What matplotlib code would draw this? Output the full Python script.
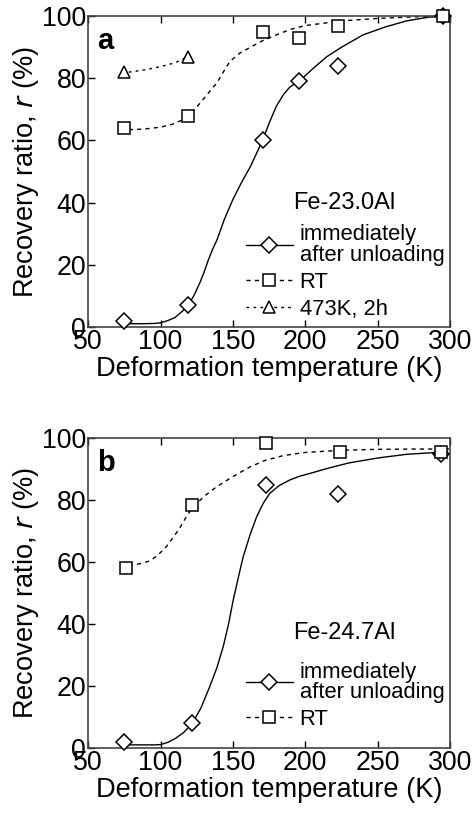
import matplotlib
matplotlib.use("Agg")
import matplotlib.pyplot as plt
from matplotlib.lines import Line2D

plt.rcParams['font.family'] = ['Liberation Sans', 'DejaVu Sans']

# ---------------- Panel a (Fe-23.0Al) ----------------
a_T_imm = [75, 119, 171, 196, 223, 295]
a_r_imm = [2, 7, 60, 79, 84, 100]
a_T_rt = [75, 119, 171, 196, 223, 295]
a_r_rt = [64, 68, 95, 93, 97, 100]
a_T_473 = [75, 119]
a_r_473 = [82, 87]

# guide curves
a_fit_imm_T = [78, 88, 96, 100, 105, 110, 115, 119, 123, 127, 130, 133, 136, 139, 144, 150, 156, 162, 166, 170.5, 175, 180, 185, 189, 193, 197, 205, 215, 225, 240, 255, 270, 285, 296]
a_fit_imm_r = [1, 1, 1.1, 1.3, 2, 3, 5, 7, 10, 14, 17.5, 21.5, 25, 28, 34.5, 41, 46.5, 51.5, 55.5, 60, 65.5, 71, 74.8, 77, 78.4, 79.6, 83, 87, 90, 94, 96.5, 98.5, 99.7, 100]
a_fit_rt_T = [78, 85, 93, 100, 108, 114, 119, 124, 129, 134, 139, 144, 148, 155, 162, 170, 180, 190, 200, 225, 250, 275, 296]
a_fit_rt_r = [63.5, 63.6, 63.9, 64.3, 65.2, 66.4, 68, 70.2, 73, 75.8, 78.6, 82.5, 85.5, 88.2, 90, 92, 94, 95.8, 97, 98.5, 99.3, 99.8, 100]
a_fit_473_T = [78, 90, 100, 110, 119]
a_fit_473_r = [82, 82.8, 83.8, 85, 87]

# ---------------- Panel b (Fe-24.7Al) ----------------
b_T_imm = [75, 122, 173, 223, 294]
b_r_imm = [2, 8, 85, 82, 95]
b_T_rt = [76, 122, 173, 224, 294]
b_r_rt = [58, 78.5, 98.5, 95.5, 95.5]

b_fit_imm_T = [78, 88, 96, 100, 105, 110, 116, 122, 128, 134, 139, 143.3, 147, 150.2, 154, 157.1, 162, 166.4, 171, 175.5, 182, 189.3, 196, 203, 215, 230, 250, 270, 294]
b_fit_imm_r = [1, 1, 1, 1.1, 1.8, 3, 5, 8, 13, 19.8, 26, 32.7, 40, 47.7, 55.5, 61.7, 69, 74.6, 79, 82.2, 84.7, 86.5, 87.7, 88.6, 90.2, 92, 93.6, 94.8, 95.5]
b_fit_rt_T = [78, 85, 92.6, 98, 104, 108, 113, 118, 122, 130, 138.7, 150, 161.7, 172, 185, 200, 225, 250, 275, 300]
b_fit_rt_r = [59, 59.4, 60.4, 62.2, 65, 67.5, 70.8, 74.8, 77.5, 81.2, 84.3, 87.6, 90.7, 92.8, 94.4, 95.4, 96.1, 96.4, 96.5, 96.5]

x_ticks = [50, 100, 150, 200, 250, 300]
y_ticks = [0, 20, 40, 60, 80, 100]

fig = plt.figure(figsize=(4.72, 8.13), dpi=100)
ax_a = fig.add_axes([0.187, 0.598, 0.766, 0.382])
ax_b = fig.add_axes([0.187, 0.080, 0.766, 0.381])

spine_col = '#444444'
mfc = 'white'
lw = 1.0
FS = 19.3


def style(ax):
    ax.set_xlim(50, 300)
    ax.set_ylim(0, 100)
    ax.set_xticks(x_ticks)
    ax.set_yticks(y_ticks)
    ax.tick_params(axis='both', direction='in', labelsize=FS, length=5,
                   width=1, color='black', top=True, right=False, pad=1.5)
    for s in ax.spines.values():
        s.set_color(spine_col)
        s.set_linewidth(1.2)
    ax.set_xlabel('Deformation temperature (K)', fontsize=FS + 0.3, labelpad=1)
    ax.set_ylabel('Recovery ratio, $\\it{r}$ (%)', fontsize=FS + 0.3, labelpad=1)


mk = dict(mfc=mfc, mec='black', mew=1.1)
D_ms, s_ms, t_ms = 8.6, 8, 9

# panel a
ax = ax_a
ax.plot(a_fit_imm_T, a_fit_imm_r, '-', color='black', lw=lw)
ax.plot(a_fit_rt_T, a_fit_rt_r, '--', color='black', lw=lw, dashes=(3, 3))
ax.plot(a_fit_473_T, a_fit_473_r, '--', color='black', lw=lw, dashes=(2, 3))
ax.plot(a_T_imm, a_r_imm, 'D', ms=D_ms, clip_on=False, zorder=5, **mk)
ax.plot(a_T_rt, a_r_rt, 's', ms=s_ms, clip_on=False, zorder=5, **mk)
ax.plot(a_T_473, a_r_473, '^', ms=t_ms, clip_on=False, zorder=5, **mk)
style(ax)
ax.text(0.025, 0.965, 'a', transform=ax.transAxes, fontsize=21, fontweight='bold', va='top')
ax.text(0.566, 0.399, 'Fe-23.0Al', transform=ax.transAxes, fontsize=17, va='center')
handles = [
    Line2D([], [], ls='-', color='black', lw=lw, marker='D', ms=D_ms, **mk),
    Line2D([], [], ls='--', dashes=(3, 3), color='black', lw=lw, marker='s', ms=s_ms, **mk),
    Line2D([], [], ls='--', dashes=(2, 3), color='black', lw=lw, marker='^', ms=t_ms, **mk),
]
labels = ['immediately\nafter unloading', 'RT', '473K, 2h']
LFS = 15.8
leg_kw = dict(frameon=False, fontsize=LFS, handlelength=2.15, handletextpad=0.3,
              labelspacing=0.28, borderpad=0, borderaxespad=0, loc='upper left')
leg = ax.legend(handles, labels, bbox_to_anchor=(0.436, 0.33), **leg_kw)
for t in leg.get_texts():
    t.set_linespacing(0.95)

# panel b
ax = ax_b
ax.plot(b_fit_imm_T, b_fit_imm_r, '-', color='black', lw=lw)
ax.plot(b_fit_rt_T, b_fit_rt_r, '--', color='black', lw=lw, dashes=(3, 3))
ax.plot(b_T_imm, b_r_imm, 'D', ms=D_ms, clip_on=False, zorder=5, **mk)
ax.plot(b_T_rt, b_r_rt, 's', ms=s_ms, clip_on=False, zorder=5, **mk)
style(ax)
ax.text(0.025, 0.965, 'b', transform=ax.transAxes, fontsize=21, fontweight='bold', va='top')
ax.text(0.566, 0.371, 'Fe-24.7Al', transform=ax.transAxes, fontsize=17, va='center')
leg = ax.legend(handles[:2], labels[:2], bbox_to_anchor=(0.436, 0.279), **leg_kw)
for t in leg.get_texts():
    t.set_linespacing(0.95)

fig.savefig('out.png', dpi=100)
